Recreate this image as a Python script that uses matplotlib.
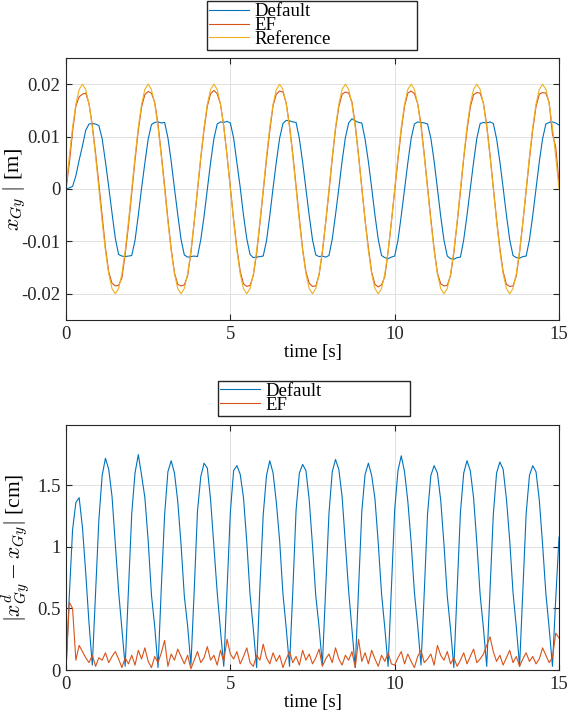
import numpy as np
import matplotlib
matplotlib.use("Agg")
import matplotlib.pyplot as plt
from matplotlib.ticker import FuncFormatter

plt.rcParams["font.family"] = ["Liberation Serif", "DejaVu Serif"]
plt.rcParams["mathtext.fontset"] = "cm"
plt.rcParams["axes.unicode_minus"] = False

# -----------------------
# dados (amostras a cada 0.1 s)
# -----------------------
tempo = np.linspace(0, 15, 151)

referencia = [
    0.0, 0.0062, 0.0118, 0.0162, 0.0190, 0.0200, 0.0190, 0.0162, 0.0118, 0.0062,
    0.0, -0.0062, -0.0118, -0.0162, -0.0190, -0.0200, -0.0190, -0.0162, -0.0118, -0.0062,
    0.0, 0.0062, 0.0118, 0.0162, 0.0190, 0.0200, 0.0190, 0.0162, 0.0118, 0.0062,
    0.0, -0.0062, -0.0118, -0.0162, -0.0190, -0.0200, -0.0190, -0.0162, -0.0118, -0.0062,
    0.0, 0.0062, 0.0118, 0.0162, 0.0190, 0.0200, 0.0190, 0.0162, 0.0118, 0.0062,
    0.0, -0.0062, -0.0118, -0.0162, -0.0190, -0.0200, -0.0190, -0.0162, -0.0118, -0.0062,
    0.0, 0.0062, 0.0118, 0.0162, 0.0190, 0.0200, 0.0190, 0.0162, 0.0118, 0.0062,
    0.0, -0.0062, -0.0118, -0.0162, -0.0190, -0.0200, -0.0190, -0.0162, -0.0118, -0.0062,
    0.0, 0.0062, 0.0118, 0.0162, 0.0190, 0.0200, 0.0190, 0.0162, 0.0118, 0.0062,
    0.0, -0.0062, -0.0118, -0.0162, -0.0190, -0.0200, -0.0190, -0.0162, -0.0118, -0.0062,
    0.0, 0.0062, 0.0118, 0.0162, 0.0190, 0.0200, 0.0190, 0.0162, 0.0118, 0.0062,
    0.0, -0.0062, -0.0118, -0.0162, -0.0190, -0.0200, -0.0190, -0.0162, -0.0118, -0.0062,
    0.0, 0.0062, 0.0118, 0.0162, 0.0190, 0.0200, 0.0190, 0.0162, 0.0118, 0.0062,
    0.0, -0.0062, -0.0118, -0.0162, -0.0190, -0.0200, -0.0190, -0.0162, -0.0118, -0.0062,
    0.0, 0.0062, 0.0118, 0.0162, 0.0190, 0.0200, 0.0190, 0.0162, 0.0118, 0.0062,
    0.0,
]

pos_ef = [
    0.0, 0.0048, 0.0110, 0.0158, 0.0176, 0.0181, 0.0183, 0.0163, 0.0122, 0.0068,
    0.0010, -0.0050, -0.0112, -0.0158, -0.0180, -0.0185, -0.0184, -0.0170, -0.0125, -0.0070,
    -0.0008, 0.0055, 0.0112, 0.0157, 0.0180, 0.0186, 0.0183, 0.0165, 0.0124, 0.0066,
    0.0006, -0.0057, -0.0114, -0.0160, -0.0182, -0.0185, -0.0183, -0.0166, -0.0122, -0.0064,
    -0.0004, 0.0058, 0.0113, 0.0158, 0.0182, 0.0188, 0.0182, 0.0162, 0.0120, 0.0064,
    0.0004, -0.0058, -0.0113, -0.0157, -0.0181, -0.0186, -0.0184, -0.0165, -0.0123, -0.0066,
    -0.0005, 0.0056, 0.0111, 0.0159, 0.0181, 0.0187, 0.0185, 0.0164, 0.0121, 0.0067,
    0.0005, -0.0056, -0.0115, -0.0158, -0.0180, -0.0186, -0.0185, -0.0164, -0.0121, -0.0065,
    -0.0006, 0.0057, 0.0114, 0.0157, 0.0181, 0.0185, 0.0183, 0.0166, 0.0123, 0.0065,
    0.0003, -0.0059, -0.0112, -0.0159, -0.0182, -0.0187, -0.0183, -0.0167, -0.0120, -0.0063,
    -0.0003, 0.0056, 0.0112, 0.0158, 0.0183, 0.0187, 0.0182, 0.0163, 0.0124, 0.0066,
    0.0004, -0.0057, -0.0114, -0.0160, -0.0181, -0.0185, -0.0184, -0.0165, -0.0122, -0.0065,
    -0.0005, 0.0058, 0.0112, 0.0156, 0.0180, 0.0184, 0.0183, 0.0164, 0.0122, 0.0066,
    0.0005, -0.0058, -0.0113, -0.0158, -0.0182, -0.0186, -0.0185, -0.0166, -0.0121, -0.0064,
    -0.0004, 0.0057, 0.0113, 0.0157, 0.0181, 0.0184, 0.0183, 0.0165, 0.0105, 0.0080,
    0.0012,
]

pos_default = [
    0.0, 0.0002, 0.0005, 0.0025, 0.0055, 0.0082, 0.0112, 0.0124, 0.0125, 0.0124,
    0.0121, 0.0096, 0.0052, 0.0004, -0.0046, -0.0094, -0.0125, -0.0128, -0.0129, -0.0128,
    -0.0127, -0.0098, -0.0050, 0.0002, 0.0050, 0.0095, 0.0123, 0.0127, 0.0128, 0.0126,
    0.0127, 0.0098, 0.0053, 0.0001, -0.0049, -0.0096, -0.0126, -0.0130, -0.0129, -0.0128,
    -0.0129, -0.0097, -0.0052, -0.0001, 0.0051, 0.0096, 0.0124, 0.0128, 0.0127, 0.0129,
    0.0126, 0.0097, 0.0050, 0.0003, -0.0050, -0.0095, -0.0125, -0.0131, -0.0130, -0.0129,
    -0.0128, -0.0099, -0.0051, 0.0002, 0.0052, 0.0097, 0.0125, 0.0131, 0.0130, 0.0128,
    0.0127, 0.0096, 0.0051, 0.0, -0.0051, -0.0097, -0.0126, -0.0129, -0.0128, -0.0130,
    -0.0127, -0.0096, -0.0049, 0.0001, 0.0053, 0.0098, 0.0126, 0.0134, 0.0130, 0.0127,
    0.0126, 0.0095, 0.0052, 0.0002, -0.0050, -0.0096, -0.0127, -0.0131, -0.0133, -0.0130,
    -0.0128, -0.0098, -0.0051, 0.0, 0.0050, 0.0096, 0.0124, 0.0128, 0.0127, 0.0126,
    0.0124, 0.0097, 0.0053, 0.0001, -0.0052, -0.0098, -0.0128, -0.0133, -0.0134, -0.0131,
    -0.0130, -0.0097, -0.0050, 0.0001, 0.0051, 0.0097, 0.0125, 0.0127, 0.0126, 0.0128,
    0.0125, 0.0096, 0.0052, 0.0002, -0.0050, -0.0097, -0.0127, -0.0131, -0.0132, -0.0129,
    -0.0128, -0.0097, -0.0051, 0.0001, 0.0052, 0.0096, 0.0124, 0.0127, 0.0128, 0.0126,
    0.0122,
]

# erro absoluto em cm
erro_default = [
    0.0, 0.60, 1.14, 1.36, 1.40, 1.16, 0.79, 0.38, 0.04, 0.63,
    1.22, 1.58, 1.72, 1.63, 1.41, 1.03, 0.64, 0.33, 0.03, 0.65,
    1.27, 1.60, 1.75, 1.58, 1.40, 1.05, 0.61, 0.35, 0.02, 0.67,
    1.26, 1.61, 1.70, 1.60, 1.37, 1.02, 0.60, 0.36, 0.04, 0.64,
    1.29, 1.57, 1.68, 1.64, 1.38, 1.00, 0.63, 0.32, 0.03, 0.66,
    1.28, 1.62, 1.66, 1.59, 1.40, 1.04, 0.61, 0.33, 0.02, 0.68,
    1.26, 1.58, 1.70, 1.60, 1.36, 1.05, 0.62, 0.34, 0.03, 0.64,
    1.30, 1.60, 1.67, 1.62, 1.38, 1.01, 0.60, 0.35, 0.04, 0.66,
    1.27, 1.61, 1.71, 1.63, 1.41, 1.02, 0.64, 0.33, 0.02, 0.65,
    1.29, 1.59, 1.68, 1.58, 1.39, 1.03, 0.62, 0.34, 0.03, 0.67,
    1.30, 1.62, 1.74, 1.61, 1.37, 1.04, 0.63, 0.36, 0.04, 0.63,
    1.27, 1.58, 1.66, 1.60, 1.38, 1.02, 0.60, 0.33, 0.02, 0.66,
    1.28, 1.60, 1.70, 1.62, 1.40, 1.03, 0.61, 0.34, 0.03, 0.65,
    1.26, 1.60, 1.69, 1.63, 1.39, 1.05, 0.63, 0.35, 0.03, 0.64,
    1.27, 1.58, 1.66, 1.61, 1.38, 1.02, 0.62, 0.34, 0.03, 0.58,
    1.08,
]

erro_ef = [
    0.0, 0.55, 0.50, 0.08, 0.20, 0.15, 0.10, 0.06, 0.12, 0.03,
    0.10, 0.08, 0.14, 0.06, 0.11, 0.15, 0.09, 0.02, 0.10, 0.05,
    0.12, 0.04, 0.16, 0.09, 0.18, 0.07, 0.02, 0.11, 0.06, 0.14,
    0.24, 0.03, 0.13, 0.08, 0.17, 0.11, 0.05, 0.12, 0.01, 0.08,
    0.15, 0.06, 0.10, 0.19, 0.08, 0.12, 0.04, 0.16, 0.07, 0.25,
    0.13, 0.09, 0.15, 0.05, 0.11, 0.18, 0.06, 0.03, 0.12, 0.08,
    0.21, 0.10, 0.05, 0.14, 0.07, 0.12, 0.02, 0.09, 0.15, 0.06,
    0.11, 0.04, 0.16, 0.08, 0.13, 0.05, 0.10, 0.17, 0.03, 0.09,
    0.13, 0.06, 0.18, 0.09, 0.04, 0.12, 0.08, 0.15, 0.02, 0.25,
    0.07, 0.14, 0.05, 0.16, 0.09, 0.03, 0.12, 0.07, 0.14, 0.05,
    0.04, 0.10, 0.15, 0.05, 0.13, 0.07, 0.02, 0.11, 0.16, 0.06,
    0.09, 0.13, 0.04, 0.20, 0.12, 0.08, 0.15, 0.05, 0.10, 0.03,
    0.08, 0.14, 0.05, 0.11, 0.17, 0.06, 0.09, 0.13, 0.20, 0.27,
    0.15, 0.07, 0.12, 0.04, 0.10, 0.16, 0.06, 0.11, 0.03, 0.09,
    0.14, 0.07, 0.11, 0.05, 0.09, 0.18, 0.12, 0.06, 0.10, 0.30,
    0.26,
]

cor_default = "#0072BD"
cor_ef = "#D95319"
cor_ref = "#EDB120"
cor_eixo = "#262626"
fonte = 13.5
espessura = 0.8


def estilo_eixo(ax):
    ax.set_xlim(0, 15)
    ax.set_xticks([0, 5, 10, 15])
    ax.grid(True, color="#dcdcdc", linewidth=0.6)
    ax.set_axisbelow(True)
    ax.tick_params(direction="in", top=True, right=True, length=4, width=0.8,
                   labelsize=fonte, colors=cor_eixo, pad=4)
    for s in ax.spines.values():
        s.set_color(cor_eixo)
        s.set_linewidth(0.8)
    ax.set_xlabel("time [s]", fontsize=fonte, labelpad=1)
    ax.yaxis.set_major_formatter(FuncFormatter(lambda v, p: "%g" % round(v, 4)))


def legenda(ax, caixa):
    ax.legend(loc="upper left", bbox_to_anchor=caixa, bbox_transform=fig.transFigure,
              mode="expand", borderaxespad=0, fontsize=fonte, handlelength=2.1,
              handletextpad=0.3, labelspacing=-0.18, borderpad=0.12,
              fancybox=False, framealpha=1, edgecolor=cor_eixo)


fig = plt.figure(figsize=(5.68, 7.16), dpi=100)

# -----------------------
# posição lateral
# -----------------------
ax1 = fig.add_axes([0.1162, 0.5531, 0.868, 0.3659])
ax1.plot(tempo, pos_default, color=cor_default, linewidth=espessura, label="Default")
ax1.plot(tempo, pos_ef, color=cor_ef, linewidth=espessura, label="EF")
ax1.plot(tempo, referencia, color=cor_ref, linewidth=espessura, label="Reference")
ax1.set_ylim(-0.025, 0.025)
ax1.set_yticks([-0.02, -0.01, 0, 0.01, 0.02])
ax1.set_ylabel(r"$x_{Gy}$ $|$ [m]", fontsize=16)
estilo_eixo(ax1)
ax1.yaxis.set_label_coords(-0.077, 0.5)
legenda(ax1, (0.3645, 0.931, 0.370, 0.0675))

# -----------------------
# erro absoluto
# -----------------------
ax2 = fig.add_axes([0.1162, 0.0642, 0.868, 0.3422])
ax2.plot(tempo, erro_default, color=cor_default, linewidth=espessura, label="Default")
ax2.plot(tempo, erro_ef, color=cor_ef, linewidth=espessura, label="EF")
ax2.set_ylim(0, 1.99)
ax2.set_yticks([0, 0.5, 1, 1.5])
ax2.set_ylabel(r"$|x^d_{Gy} - x_{Gy}|$ [cm]", fontsize=15.5)
estilo_eixo(ax2)
ax2.yaxis.set_label_coords(-0.069, 0.5)
legenda(ax2, (0.3838, 0.4215, 0.338, 0.047))

fig.savefig("out.png", dpi=100)
